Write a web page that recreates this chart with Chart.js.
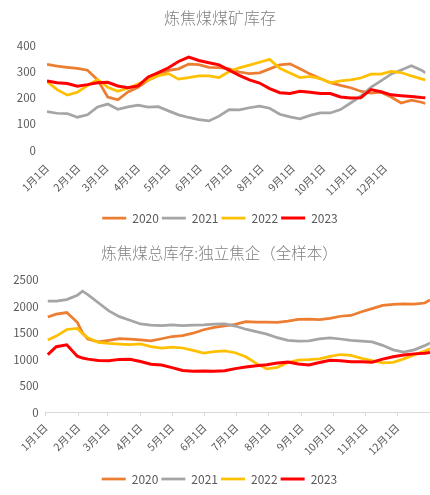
<!DOCTYPE html>
<html><head><meta charset="utf-8">
<script src="https://cdn.jsdelivr.net/npm/chart.js@4"></script>
<style>
html,body{margin:0;padding:0;background:#fff;}
canvas{display:block;}
</style></head><body>
<canvas id="c1" width="430" height="240"></canvas>
<canvas id="c2" width="430" height="255"></canvas>
<script>
// ---- shared categories / tick labels ----
const seriesNames = ['2020', '2021', '2022', '2023'];
const seriesColors = ['#ED7D31', '#A5A5A5', '#FFC000', '#FF0000'];
const monthDays = [0, 31, 59, 90, 120, 151, 181, 212, 243, 273, 304, 334];
const monthLabels = ['1月1日','2月1日','3月1日','4月1日','5月1日','6月1日','7月1日','8月1日','9月1日','10月1日','11月1日','12月1日'];

// ---- chart 1: 炼焦煤煤矿库存 ----
const topTitle = '炼焦煤煤矿库存';
const topDays = [0,10,20,30,40,50,60,70,80,90,100,110,120,130,140,150,160,170,180,190,200,210,220,230,240,250,260,270,280,290,300,310,320,330,340,350,360,370,374];
const top2020 = [327,320,316,312,305,268,203,192,222,240,267,286,304,310,328,326,316,315,310,298,292,295,310,325,329,310,290,273,257,247,238,225,218,221,203,180,191,183,178];
const top2021 = [147,141,140,126,135,165,176,156,165,172,164,166,150,135,125,117,112,130,155,154,162,168,160,137,127,120,133,142,142,155,180,206,240,264,290,306,322,305,295];
const top2022 = [262,231,210,221,246,270,240,225,236,252,268,284,292,271,277,283,283,277,300,314,324,335,346,312,294,277,281,273,257,264,268,275,290,290,300,296,283,272,268];
const top2023 = [264,257,254,244,250,257,259,245,238,245,279,296,314,338,355,342,333,325,305,285,268,256,235,219,216,225,221,216,216,203,199,200,231,223,211,208,205,201,200];

// ---- chart 2: 炼焦煤总库存:独立焦企（全样本） ----
const botTitle = '炼焦煤总库存:独立焦企（全样本）';
const botDays = [2,10,20,30,35,40,50,60,70,80,90,100,110,120,130,140,150,160,170,180,190,200,210,220,230,240,250,260,270,280,290,300,310,320,330,340,350,360,365];
const bot2020 = [1800,1855,1885,1700,1500,1385,1330,1360,1390,1385,1370,1352,1390,1432,1450,1495,1560,1605,1635,1660,1712,1705,1705,1700,1725,1755,1760,1750,1775,1815,1830,1900,1960,2020,2041,2050,2045,2065,2125];
const bot2021 = [2100,2100,2130,2210,2290,2225,2070,1917,1807,1740,1670,1648,1636,1650,1636,1647,1652,1665,1670,1630,1570,1525,1478,1410,1360,1343,1350,1388,1408,1385,1360,1345,1330,1265,1180,1136,1180,1260,1310];
const bot2022 = [1365,1440,1565,1585,1485,1410,1320,1302,1290,1278,1292,1240,1212,1233,1215,1170,1120,1148,1160,1125,1050,925,820,850,940,985,995,1010,1055,1092,1075,1020,975,935,945,1010,1085,1160,1200];
const bot2023 = [1090,1240,1275,1060,1025,1005,980,975,1000,1003,960,910,895,845,790,775,781,776,785,825,855,880,900,930,948,912,895,940,985,975,956,955,945,1005,1050,1084,1104,1118,1130];

const FONT = '"Noto Sans CJK SC", "Noto Sans", sans-serif';
const TXT = '#595959';

function buildDatasets(days, seriesList) {
  return seriesList.map((vals, i) => ({
    label: seriesNames[i],
    data: days.map((d, k) => ({ x: d, y: vals[k] })),
    borderColor: seriesColors[i],
    backgroundColor: seriesColors[i],
    borderWidth: i === 3 ? 3 : 2.75,
    pointRadius: 0,
    tension: 0,
    order: 3 - i
  }));
}

function makeChart(id, o) {
  return new Chart(document.getElementById(id), {
    type: 'line',
    data: { datasets: buildDatasets(o.days, o.series) },
    options: {
      responsive: false,
      animation: false,
      layout: { padding: { left: o.padLeft, right: o.padRight, top: 0, bottom: o.padBottom } },
      plugins: {
        title: {
          display: true, text: o.title, color: '#808080',
          font: { family: FONT, size: o.titleSize, weight: '300', lineHeight: 1.2 },
          padding: o.titlePad
        },
        legend: {
          position: 'bottom',
          labels: {
            usePointStyle: true, pointStyle: 'line', pointStyleWidth: 24,
            padding: 3, color: TXT, font: { family: FONT, size: 12 },
            sort: (a, b) => a.datasetIndex - b.datasetIndex
          }
        },
        tooltip: { enabled: false }
      },
      scales: {
        x: {
          type: 'linear', min: 0, max: o.xMax,
          border: { display: o.axisLine, color: '#d9d9d9', width: 1 },
          grid: o.axisLine
            ? { display: true, drawOnChartArea: false, drawTicks: true, tickLength: 4, color: '#d9d9d9' }
            : { display: false, drawTicks: false },
          afterBuildTicks: (axis) => { axis.ticks = monthDays.map(v => ({ value: v })); },
          afterFit: (s) => { s.height = o.xHeight; },
          ticks: {
            autoSkip: false, maxRotation: 45, minRotation: 45, padding: o.xPad,
            color: TXT, font: { family: FONT, size: 10.5 },
            callback: (v, i) => monthLabels[i]
          }
        },
        y: {
          min: 0, max: o.yMax,
          border: { display: false },
          grid: { display: false, drawTicks: false },
          afterFit: (s) => { s.width = o.yWidth; },
          ticks: {
            stepSize: o.yStep, padding: o.yPad, color: TXT, font: { family: FONT, size: 11.5 },
            callback: (v) => String(v)
          }
        }
      }
    }
  });
}

makeChart('c1', {
  title: topTitle, titleSize: 16, titlePad: { top: 8, bottom: 18 },
  days: topDays, series: [top2020, top2021, top2022, top2023],
  xMax: 374, yMax: 400, yStep: 100, yWidth: 32.5, yPad: 11,
  xHeight: 58.7, xPad: 11.5, axisLine: false, padLeft: 14.5, padRight: 4.5, padBottom: 6
});

makeChart('c2', {
  title: botTitle, titleSize: 15.5, titlePad: { top: 4, bottom: 17.4 },
  days: botDays, series: [bot2020, bot2021, bot2022, bot2023],
  xMax: 365, yMax: 2500, yStep: 500, yWidth: 36.7, yPad: 7,
  xHeight: 57.7, xPad: 5, axisLine: true, padLeft: 9, padRight: 0, padBottom: 0
});
</script>
</body></html>
